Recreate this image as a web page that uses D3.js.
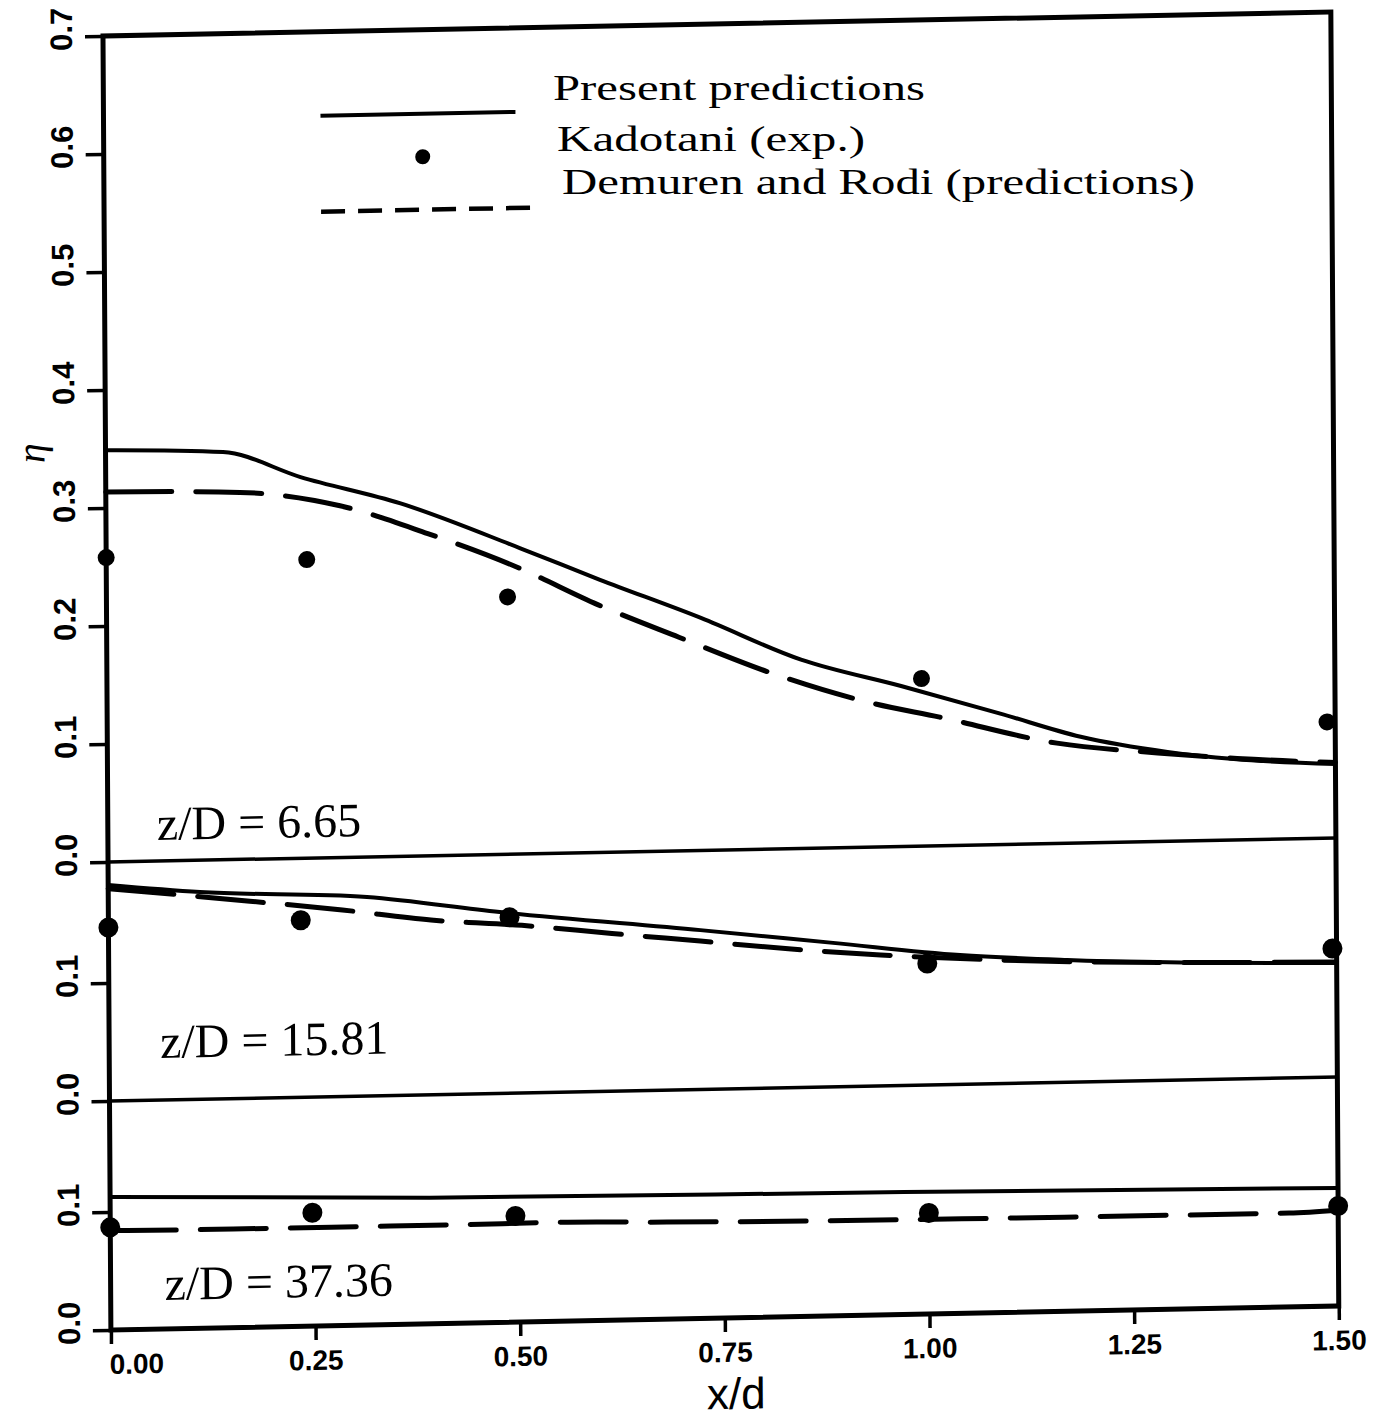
<!DOCTYPE html>
<html>
<head>
<meta charset="utf-8">
<script src="https://cdn.jsdelivr.net/npm/d3@7/dist/d3.min.js"></script>
<style>
  body { margin: 0; background: #fff; }
  svg { display: block; }
</style>
</head>
<body>
<script>
const width = 1389;
const height = 1421;

// axis ticks
const xTicks = [0, 0.25, 0.5, 0.75, 1.0, 1.25, 1.5];
const xTickLabels = ['0.00', '0.25', '0.50', '0.75', '1.00', '1.25', '1.50'];
const yTicksTop = [0, 0.1, 0.2, 0.3, 0.4, 0.5, 0.6, 0.7];
const yTicksLow = [0, 0.1];
const panelLabels = ['z/D = 6.65', 'z/D = 15.81', 'z/D = 37.36'];
const legendLabels = ['Present predictions', 'Kadotani (exp.)', 'Demuren and Rodi (predictions)'];

// z/D = 6.65
const present665X = [0, 0.1435, 0.238, 0.36, 0.506, 0.603, 0.726, 0.848, 0.97, 1.091, 1.189, 1.295, 1.376, 1.5];
const present665Y = [0.349, 0.3455, 0.323, 0.299, 0.259, 0.231, 0.197, 0.16, 0.136, 0.111, 0.09, 0.0757, 0.0686, 0.0627];
const demuren665X = [0, 0.164, 0.286, 0.393, 0.502, 0.6, 0.699, 0.812, 0.934, 1.017, 1.16, 1.283, 1.38, 1.5];
const demuren665Y = [0.3136, 0.311, 0.298, 0.273, 0.243, 0.21, 0.181, 0.149, 0.122, 0.109, 0.085, 0.075, 0.069, 0.064];
const kadotani665X = [0, 0.245, 0.49, 0.995, 1.49];
const kadotani665Y = [0.258, 0.253, 0.218, 0.142, 0.0985];

// z/D = 15.81
const present1581X = [0, 0.112, 0.316, 0.478, 0.723, 0.885, 1.04, 1.171, 1.5];
const present1581Y = [0.183, 0.1755, 0.1686, 0.1536, 0.135, 0.122, 0.1096, 0.1036, 0.0966];
const demuren1581X = [0, 0.173, 0.286, 0.394, 0.505, 0.615, 0.723, 0.834, 0.943, 1.089, 1.5];
const demuren1581Y = [0.18, 0.167, 0.158, 0.148, 0.142, 0.1336, 0.1257, 0.1175, 0.111, 0.1047, 0.0975];
const kadotani1581X = [0, 0.235, 0.49, 1.0, 1.495];
const kadotani1581Y = [0.147, 0.15, 0.149, 0.103, 0.109];

// z/D = 37.36
const present3736X = [0, 0.39, 0.97, 1.5];
const present3736Y = [0.1127, 0.1068, 0.1038, 0.1];
const demuren3736X = [0, 0.15, 0.27, 0.41, 0.55, 0.68, 1.09, 1.44, 1.5];
const demuren3736Y = [0.0843, 0.0835, 0.0835, 0.0834, 0.0839, 0.0822, 0.08, 0.0796, 0.0814];
const kadotani3736X = [0, 0.247, 0.495, 1.0, 1.5];
const kadotani3736Y = [0.087, 0.096, 0.09, 0.0856, 0.0847];

const zip = (xs, ys) => xs.map((d, i) => [d, ys[i]]);

const svg = d3.select('body').append('svg')
  .attr('width', width)
  .attr('height', height);

// the scanned figure is a little skewed, follow it
const g = svg.append('g')
  .attr('transform', 'translate(103,38) skewX(0.35) skewY(-1.12) translate(-103,-38)');

const x = d3.scaleLinear().domain([0, 1.5]).range([103, 1331]);

const panels = [
  { label: panelLabels[0], y: d3.scaleLinear().domain([0, 0.7]).range([862, 36]), ticks: yTicksTop, r: 8.5,
    present: zip(present665X, present665Y), demuren: zip(demuren665X, demuren665Y), exp: zip(kadotani665X, kadotani665Y), labelPos: [152, 841] },
  { label: panelLabels[1], y: d3.scaleLinear().domain([0, 0.2]).range([1101, 865]), ticks: yTicksLow, r: 10,
    present: zip(present1581X, present1581Y), demuren: zip(demuren1581X, demuren1581Y), exp: zip(kadotani1581X, kadotani1581Y), labelPos: [154, 1059] },
  { label: panelLabels[2], y: d3.scaleLinear().domain([0, 0.2]).range([1330, 1094]), ticks: yTicksLow, r: 10,
    present: zip(present3736X, present3736Y), demuren: zip(demuren3736X, demuren3736Y), exp: zip(kadotani3736X, kadotani3736Y), labelPos: [157, 1301] }
];

panels.forEach((p) => {
  // y axis ticks and rotated labels
  const ax = g.append('g')
    .attr('transform', `translate(${x(0)},0)`)
    .call(d3.axisLeft(p.y).tickValues(p.ticks).tickSize(18).tickFormat(d3.format('.1f')));
  ax.select('.domain').remove();
  ax.selectAll('line').attr('stroke', '#000').attr('stroke-width', 3.5);
  ax.selectAll('text')
    .attr('x', null).attr('dy', null)
    .attr('transform', 'translate(-31,-8) rotate(-90)')
    .attr('text-anchor', 'middle')
    .attr('fill', '#000')
    .style('font', 'bold 31px "Liberation Sans", Arial, sans-serif');

  // zero line of the panel
  g.append('line')
    .attr('x1', x(0)).attr('x2', x(1.5))
    .attr('y1', p.y(0)).attr('y2', p.y(0))
    .attr('stroke', '#000').attr('stroke-width', 3.5);

  const line = d3.line()
    .x((d) => x(d[0]))
    .y((d) => p.y(d[1]))
    .curve(d3.curveMonotoneX);

  g.append('path')
    .attr('d', line(p.present))
    .attr('fill', 'none')
    .attr('stroke', '#000')
    .attr('stroke-width', 4);

  g.append('path')
    .attr('d', line(p.demuren))
    .attr('fill', 'none')
    .attr('stroke', '#000')
    .attr('stroke-width', 5)
    .attr('stroke-linecap', 'round')
    .attr('stroke-dasharray', '66,24');

  g.append('g')
    .selectAll('circle')
    .data(p.exp)
    .join('circle')
      .attr('cx', (d) => x(d[0]))
      .attr('cy', (d) => p.y(d[1]))
      .attr('r', p.r)
      .attr('fill', '#000');

  g.append('text')
    .attr('x', p.labelPos[0])
    .attr('y', p.labelPos[1])
    .text(p.label)
    .style('font', '48px "Liberation Serif", "Times New Roman", serif');
});

// frame
g.append('rect')
  .attr('x', x(0)).attr('y', 36)
  .attr('width', x(1.5) - x(0)).attr('height', 1330 - 36)
  .attr('fill', 'none')
  .attr('stroke', '#000')
  .attr('stroke-width', 5);

// x axis
const xa = g.append('g')
  .attr('transform', 'translate(0,1330)')
  .call(d3.axisBottom(x).tickValues(xTicks).tickSize(14).tickFormat((d, i) => xTickLabels[i]));
xa.select('.domain').remove();
xa.selectAll('line').attr('stroke', '#000').attr('stroke-width', 3.5);
xa.selectAll('text')
  .attr('y', 44).attr('dy', null)
  .attr('fill', '#000')
  .style('font', 'bold 28px "Liberation Sans", Arial, sans-serif');
xa.selectAll('text').filter((d) => d === 0)
  .attr('text-anchor', 'start').attr('x', -2);

g.append('text')
  .attr('x', 728).attr('y', 1421)
  .attr('text-anchor', 'middle')
  .text('x/d')
  .style('font', '44px "Liberation Sans", Arial, sans-serif');

g.append('text')
  .attr('transform', 'translate(42,452) rotate(-90)')
  .attr('text-anchor', 'middle')
  .text('η')
  .style('font', 'italic 40px "Liberation Serif", serif');

// legend keys follow the skew, legend texts stay level
const legend = g.append('g');
legend.append('line')
  .attr('x1', 320).attr('x2', 515).attr('y1', 120).attr('y2', 120)
  .attr('stroke', '#000').attr('stroke-width', 4);
legend.append('circle')
  .attr('cx', 422).attr('cy', 163).attr('r', 7.5).attr('fill', '#000');
legend.append('line')
  .attr('x1', 320).attr('x2', 535).attr('y1', 216).attr('y2', 216)
  .attr('stroke', '#000').attr('stroke-width', 4.5)
  .attr('stroke-dasharray', '24,13');

const legendText = [[553, 100, 372], [557, 151, 308], [562, 194, 633]];
svg.append('g')
  .selectAll('text')
  .data(legendLabels)
  .join('text')
    .attr('x', (d, i) => legendText[i][0])
    .attr('y', (d, i) => legendText[i][1])
    .attr('textLength', (d, i) => legendText[i][2])
    .attr('lengthAdjust', 'spacingAndGlyphs')
    .text((d) => d)
    .style('font', '36px "Liberation Serif", "Times New Roman", serif');
</script>
</body>
</html>
